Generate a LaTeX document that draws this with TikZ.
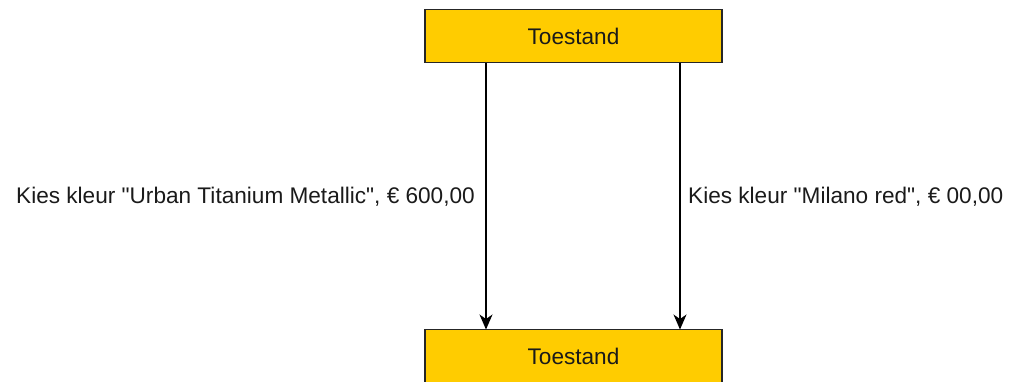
\documentclass[tikz,border=0pt]{standalone}
\usepackage{fontspec}
\setmainfont{Liberation Sans}
\usetikzlibrary{arrows.meta}
\definecolor{boxfill}{HTML}{FFCC00}
\definecolor{boxline}{HTML}{262626}
\definecolor{txt}{HTML}{1A1A1A}
\begin{document}
\begin{tikzpicture}[x=1pt,y=-1pt,
  statebox/.style={draw=boxline,fill=boxfill,line width=1.3pt,minimum width=297pt,minimum height=53pt,inner sep=0pt,text=txt,font=\fontsize{22.6}{26}\selectfont},
  edgelabel/.style={font=\fontsize{22.6}{26}\selectfont,inner sep=0pt,text=txt},
  conn/.style={draw=black,line width=1.3pt,-{Stealth[length=15pt,width=13pt,inset=4.5pt]}}]
\useasboundingbox (0,0) rectangle (1010,381);
\node[statebox] (s1) at (573.5,36) {Toestand};
\node[statebox] (s2) at (573.5,356) {Toestand};
\coordinate (a1) at (486,62.7);
\coordinate (a2) at (486,329.5);
\coordinate (b1) at (680,62.7);
\coordinate (b2) at (680,329.5);
\draw[conn] (a1) -- (a2);
\draw[conn] (b1) -- (b2);
\node[edgelabel,anchor=east] (l1) at (475,197) {Kies kleur \textquotedbl Urban Titanium Metallic\textquotedbl, € 600,00};
\node[edgelabel,anchor=west] (l2) at (688,197) {Kies kleur \textquotedbl Milano red\textquotedbl, € 00,00};
\end{tikzpicture}
\end{document}
